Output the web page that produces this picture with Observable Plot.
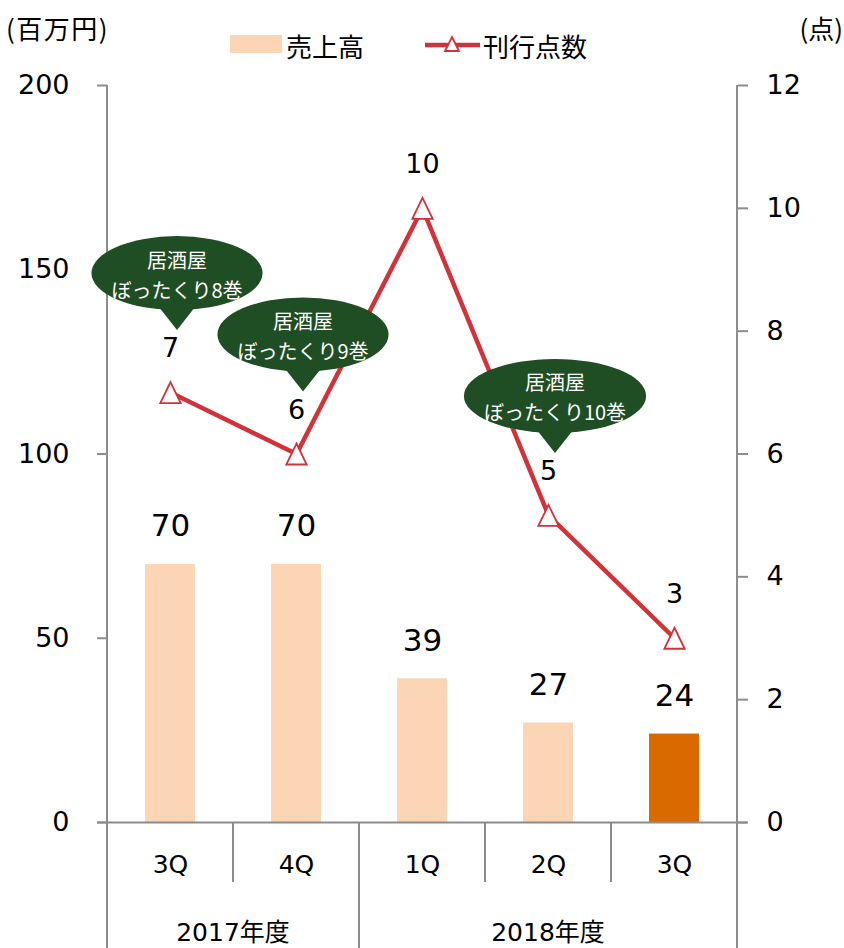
<!DOCTYPE html>
<html>
<head>
<meta charset="utf-8">
<script src="https://cdn.jsdelivr.net/npm/d3@7"></script>
<script src="https://cdn.jsdelivr.net/npm/@observablehq/plot@0.6"></script>
<style>
  body { margin: 0; background: #fff; }
  #chart svg { display: block; }
</style>
</head>
<body>
<div id="chart"></div>
<script>
// Quarterly sales (million yen, left axis) and number of titles published (right axis)
const fiscalYears = ["2017年度", "2017年度", "2018年度", "2018年度", "2018年度"];
const quarters = ["3Q", "4Q", "1Q", "2Q", "3Q"];
const sales = [70, 70, 39, 27, 24];
const titleCounts = [7, 6, 10, 5, 3];
const latest = [false, false, false, false, true];

// Speech-bubble notes attached to the title line
const noteIndex = [0, 1, 3];
const noteHeads = ["居酒屋", "居酒屋", "居酒屋"];
const noteVolumes = ["ぼったくり8巻", "ぼったくり9巻", "ぼったくり10巻"];

const salesTicks = [0, 50, 100, 150, 200];
const countTicks = [0, 2, 4, 6, 8, 10, 12];
const salesMax = 200;
const countMax = 12;

const FONT = "'DejaVu Sans', 'Noto Sans CJK JP', sans-serif";
const JFONT = "'Noto Sans CJK JP', 'DejaVu Sans', sans-serif";
const PEACH = "#fcd5b5";
const ORANGE = "#d96a00";
const RED = "#d2323a";
const AXIS = "#8c8c8c";
const BUBBLE = "#1f4e24";

const k = salesMax / countMax; // right-axis units -> left-axis units
const rows = quarters.map((q, i) => ({
  key: fiscalYears[i] + "|" + q,
  year: fiscalYears[i],
  quarter: q,
  sales: sales[i],
  count: titleCounts[i],
  countY: titleCounts[i] * k,
  latest: latest[i]
}));

const triangle = {
  draw(ctx, size) {
    const a = Math.sqrt(size / Math.PI);
    ctx.moveTo(0, -1.75 * a);
    ctx.lineTo(1.7 * a, 1.75 * a);
    ctx.lineTo(-1.7 * a, 1.75 * a);
    ctx.closePath();
  }
};

const plot = Plot.plot({
  width: 844,
  height: 948,
  marginTop: 85,
  marginBottom: 126,
  marginLeft: 107,
  marginRight: 107,
  style: { fontFamily: FONT, background: "#fff", color: "#000", overflow: "visible" },
  x: { type: "band", domain: rows.map(d => d.key), padding: 0 },
  y: { domain: [0, salesMax] },
  color: { domain: [false, true], range: [PEACH, ORANGE] },
  marks: [
    Plot.barY(rows, { x: "key", y: "sales", fill: "latest", insetLeft: 38, insetRight: 38 }),
    Plot.axisY(salesTicks, {
      anchor: "left", tickSize: 10, tickPadding: 28, fontSize: 27,
      stroke: AXIS, strokeWidth: 2, fill: "#000", label: null
    }),
    Plot.axisY(countTicks.map(v => v * k), {
      anchor: "right", tickSize: 10, tickPadding: 19, fontSize: 27,
      stroke: AXIS, strokeWidth: 2, fill: "#000", label: null,
      tickFormat: v => String(Math.round(v / k))
    }),
    Plot.axisX({
      anchor: "bottom", tickSize: 0, tickPadding: 33, fontSize: 25,
      fill: "#000", label: null, tickFormat: key => key.split("|")[1]
    }),
    Plot.ruleY([0], { stroke: AXIS, strokeWidth: 2, insetLeft: -10, insetRight: -10 }),
    Plot.text(rows, { x: "key", y: "sales", text: d => String(d.sales), dy: -38, fontSize: 31, fill: "#000" }),
    Plot.line(rows, { x: "key", y: "countY", stroke: RED, strokeWidth: 4.5 }),
    Plot.dot(rows, { x: "key", y: "countY", symbol: triangle, r: 6, fill: "#fff", stroke: RED, strokeWidth: 1.8 }),
    Plot.text(rows, { x: "key", y: "countY", text: d => String(d.count), dy: -44, fontSize: 27, fill: "#000" })
  ]
});

document.getElementById("chart").appendChild(plot);

const svg = d3.select(plot);
const xs = plot.scale("x");
const ys = plot.scale("y");
const bw = xs.bandwidth;
const cx = key => xs.apply(key) + bw / 2;
const y0 = ys.apply(0);
const yTop = ys.apply(salesMax);
const bottom = 948;

// Category-axis separators: quarter dividers are short, fiscal-year dividers run to the bottom
const seps = svg.append("g").attr("stroke", AXIS).attr("stroke-width", 2);
rows.forEach((d, i) => {
  const left = xs.apply(d.key);
  const newYear = i === 0 || rows[i - 1].year !== d.year;
  seps.append("line")
    .attr("x1", left).attr("x2", left)
    .attr("y1", i === 0 ? yTop : y0)
    .attr("y2", newYear ? bottom : y0 + 60);
});
const rightEdge = xs.apply(rows[rows.length - 1].key) + bw;
seps.append("line").attr("x1", rightEdge).attr("x2", rightEdge).attr("y1", yTop).attr("y2", bottom);

// Fiscal-year group labels
const years = d3.groups(rows, d => d.year);
svg.append("g")
  .attr("font-family", FONT).attr("font-size", 25).attr("text-anchor", "middle")
  .selectAll("text").data(years).join("text")
  .attr("x", ([, g]) => d3.mean(g, d => cx(d.key)))
  .attr("y", y0 + 110)
  .attr("dominant-baseline", "central")
  .text(([y]) => y);

// Speech bubbles (two-line white text on a dark green balloon)
noteIndex.forEach((idx, n) => {
  const d = rows[idx];
  const tipX = cx(d.key) + 7;
  const tipY = ys.apply(d.countY) - 62;
  const bx = tipX;
  const by = tipY - 57;
  const g = svg.append("g").attr("font-family", JFONT);
  const t1 = g.append("text").attr("x", bx).attr("y", by - 14).attr("text-anchor", "middle")
    .attr("dominant-baseline", "central").attr("font-size", 20).attr("fill", "#fff").text(noteHeads[n]);
  const t2 = g.append("text").attr("x", bx).attr("y", by + 16).attr("text-anchor", "middle")
    .attr("dominant-baseline", "central").attr("font-size", 20).attr("fill", "#fff").text(noteVolumes[n]);
  const w = Math.max(t1.node().getComputedTextLength(), t2.node().getComputedTextLength());
  const rx = w / 2 + 20;
  const ry = 37;
  g.insert("path", "text")
    .attr("d", `M${bx - 22},${by + ry - 8}L${tipX},${tipY}L${bx + 22},${by + ry - 8}Z`)
    .attr("fill", BUBBLE);
  g.insert("ellipse", "text")
    .attr("cx", bx).attr("cy", by).attr("rx", rx).attr("ry", ry)
    .attr("fill", BUBBLE);
});

// Units and legend
const header = svg.append("g").attr("font-family", JFONT)
  .attr("dominant-baseline", "central").attr("text-anchor", "start");
header.append("text").attr("x", 6).attr("y", 27).attr("font-size", 26).attr("letter-spacing", 1.5).text("(百万円)");
header.append("text").attr("x", 843).attr("y", 27).attr("font-size", 26).attr("text-anchor", "end").text("(点)");
header.append("rect").attr("x", 230).attr("y", 35).attr("width", 52).attr("height", 18).attr("fill", PEACH);
header.append("text").attr("x", 286).attr("y", 45).attr("font-size", 26).text("売上高");
header.append("line").attr("x1", 425).attr("x2", 480).attr("y1", 45).attr("y2", 45)
  .attr("stroke", RED).attr("stroke-width", 4.5);
header.append("path").attr("d", "M452,37L459,51L445,51Z")
  .attr("fill", "#fff").attr("stroke", RED).attr("stroke-width", 1.8);
header.append("text").attr("x", 483).attr("y", 45).attr("font-size", 26).text("刊行点数");
</script>
</body>
</html>
